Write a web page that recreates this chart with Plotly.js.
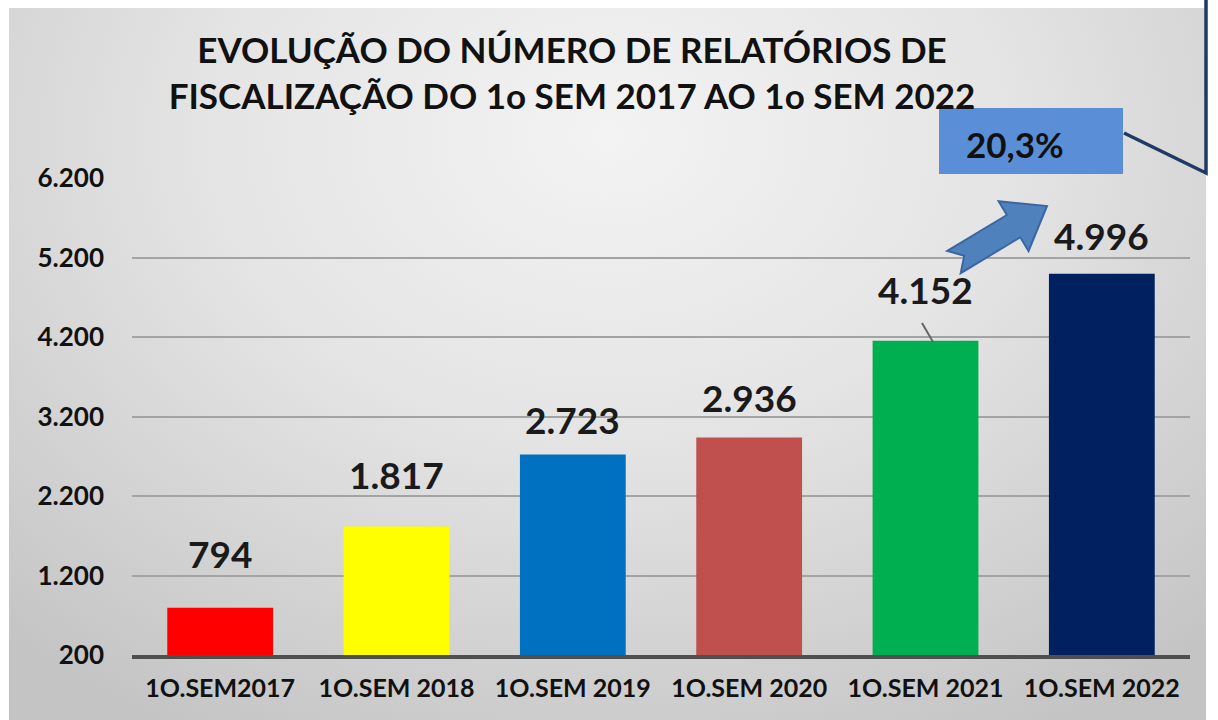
<!DOCTYPE html>
<html>
<head>
<meta charset="utf-8">
<script src="https://cdn.plot.ly/plotly-3.0.1.min.js"></script>
<style>
  html, body { margin: 0; padding: 0; background: #ffffff; }
  #bg { position: absolute; left: 9px; top: 8px; width: 1197px; height: 712px;
        background: radial-gradient(ellipse 75% 95% at 50% 18%, #f3f3f3 0%, #e4e4e4 45%, #cdcdcd 85%, #c4c4c4 100%); }
  #chart { position: absolute; left: 0; top: 0; width: 1218px; height: 720px; }
</style>
</head>
<body>
<div id="bg"></div>
<div id="chart"></div>
<script>
// ---- data ----
const categories = ['1O.SEM2017', '1O.SEM 2018', '1O.SEM 2019', '1O.SEM 2020', '1O.SEM 2021', '1O.SEM 2022'];
const values = [794, 1817, 2723, 2936, 4152, 4996];
const valueLabels = ['794', '1.817', '2.723', '2.936', '4.152', '4.996'];
const growthLabel = '20,3%';
const tickValues = [200, 1200, 2200, 3200, 4200, 5200, 6200];

// ---- style ----
const barColors = ['#ff0000', '#ffff00', '#0070c0', '#c0504d', '#00b050', '#002060'];
const FONT = 'Lato, "Open Sans", sans-serif';
const W = 1218, H = 720;
const M = {l: 132, r: 28, t: 178, b: 65};
const labelShift = [30, 27, 10, 15, 27, 14];

// pixel -> paper helpers for decorative shapes
const pw = W - M.l - M.r, ph = H - M.t - M.b;
const px = x => (x - M.l) / pw;
const py = y => (H - M.b - y) / ph;

// block arrow geometry (pixels)
function arrowPath() {
  const T = [954, 262], P = [1047, 206];
  const dx = P[0] - T[0], dy = P[1] - T[1];
  const L = Math.hypot(dx, dy);
  const u = [dx / L, dy / L], n = [-u[1], u[0]];
  const h = 13, Hh = 29, headLen = 39, notch = 12;
  const B = [P[0] - u[0] * headLen, P[1] - u[1] * headLen];
  const pts = [
    [T[0] - n[0] * h, T[1] - n[1] * h],
    [B[0] - n[0] * h, B[1] - n[1] * h],
    [B[0] - n[0] * Hh, B[1] - n[1] * Hh],
    P,
    [B[0] + n[0] * Hh, B[1] + n[1] * Hh],
    [B[0] + n[0] * h, B[1] + n[1] * h],
    [T[0] + n[0] * h, T[1] + n[1] * h],
    [T[0] + u[0] * notch, T[1] + u[1] * notch]
  ];
  return 'M ' + pts.map(p => px(p[0]).toFixed(5) + ',' + py(p[1]).toFixed(5)).join(' L ') + ' Z';
}

const trace = {
  type: 'bar',
  x: categories,
  y: values.map(v => v - 200),
  base: 200,
  marker: {color: barColors, line: {width: 0}},
  width: 0.6,
  hoverinfo: 'skip'
};

const annotations = categories.map((c, i) => ({
  x: c, y: values[i], xref: 'x', yref: 'y',
  text: valueLabels[i], showarrow: false,
  yanchor: 'bottom', yshift: labelShift[i],
  font: {family: FONT, size: 37, color: '#1a1a1a', weight: 700}
}));
annotations.push({
  xref: 'paper', yref: 'paper', x: px(1015), y: py(144),
  text: growthLabel, showarrow: false, xanchor: 'center', yanchor: 'middle',
  font: {family: FONT, size: 35, color: '#111111', weight: 700}
});

const layout = {
  width: W, height: H,
  margin: M,
  paper_bgcolor: 'rgba(0,0,0,0)',
  plot_bgcolor: 'rgba(0,0,0,0)',
  separators: ',.',
  showlegend: false,
  title: {
    text: 'EVOLUÇÃO DO NÚMERO DE RELATÓRIOS DE<br>FISCALIZAÇÃO DO 1o SEM 2017 AO 1o SEM 2022',
    xref: 'container', yref: 'container',
    x: 572 / W, y: 1 - 63 / H, xanchor: 'center', yanchor: 'middle',
    font: {family: FONT, size: 35, color: '#111111', weight: 700}
  },
  xaxis: {
    type: 'category',
    showgrid: false, zeroline: false,
    showline: true, linecolor: '#4f4f4f', linewidth: 4,
    ticks: '', ticklabelstandoff: 8,
    tickfont: {family: FONT, size: 25, color: '#111111', weight: 700},
    fixedrange: true
  },
  yaxis: {
    range: [200, 6200],
    tickvals: tickValues, tickformat: ',d',
    showgrid: true, gridcolor: '#a3a3a3', gridwidth: 2,
    zeroline: false, showline: false, ticks: '',
    ticklabelstandoff: 27,
    tickfont: {family: FONT, size: 26, color: '#111111', weight: 700},
    fixedrange: true
  },
  annotations: annotations,
  shapes: [
    // growth box
    {type: 'rect', xref: 'paper', yref: 'paper',
     x0: px(939), x1: px(1123), y0: py(174), y1: py(108),
     fillcolor: '#5a8fd8', line: {width: 0}, layer: 'above'},
    // connector line from box
    {type: 'path', xref: 'paper', yref: 'paper',
     path: 'M ' + px(1124) + ',' + py(133) + ' L ' + px(1206) + ',' + py(173) + ' L ' + px(1206) + ',' + py(-2),
     line: {color: '#1f3b64', width: 3.5}, layer: 'above'},
    // block arrow
    {type: 'path', xref: 'paper', yref: 'paper', path: arrowPath(),
     fillcolor: '#4f81bd', line: {color: '#3a67a3', width: 2}, layer: 'above'},
    // leader line for 4.152
    {type: 'line', xref: 'paper', yref: 'paper',
     x0: px(922), y0: py(323), x1: px(933), y1: py(342),
     line: {color: '#666666', width: 2}, layer: 'above'}
  ]
};

Plotly.newPlot('chart', [trace], layout, {displayModeBar: false, staticPlot: true});
</script>
</body>
</html>
